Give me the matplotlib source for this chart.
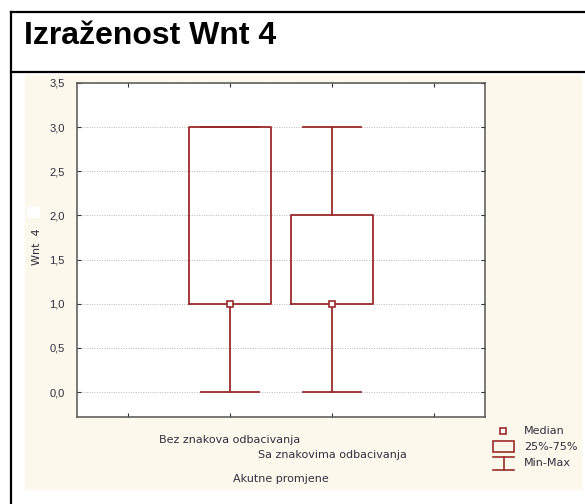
import matplotlib
matplotlib.use("Agg")
import matplotlib.pyplot as plt
from matplotlib.lines import Line2D
from matplotlib.patches import Rectangle
from matplotlib.ticker import FuncFormatter
import matplotlib.transforms as mtransforms

plt.rcParams['font.family'] = ['Liberation Sans', 'DejaVu Sans']

# data
categories = ["Bez znakova odbacivanja", "Sa znakovima odbacivanja"]
medians = [1.0, 1.0]
q1 = [1.0, 1.0]
q3 = [3.0, 2.0]
mins = [0.0, 0.0]
maxs = [3.0, 3.0]
yticks = [0.0, 0.5, 1.0, 1.5, 2.0, 2.5, 3.0, 3.5]

W, H = 585, 504
red = '#9b2b2b'
txt = '#2e2e3e'
cream = '#fdf8ec'
small = dict(fontsize=8, color=txt, family='DejaVu Sans')

fig = plt.figure(figsize=(W / 100, H / 100), dpi=100)
fig.patch.set_facecolor('white')

def fx(px):
    return px / W

def fy(py):
    return 1 - py / H

# cream panel behind the chart
fig.add_artist(Rectangle((fx(25), fy(490)), fx(582) - fx(25), fy(75) - fy(490),
                         facecolor=cream, edgecolor='none', zorder=0))
fig.add_artist(Rectangle((fx(27), fy(218)), fx(13), 11 / H,
                         facecolor='white', edgecolor='none', zorder=0.5))

# frame lines
fig.add_artist(Line2D([fx(11), 1], [fy(12), fy(12)], color='black', lw=1.6))
fig.add_artist(Line2D([fx(11), fx(11)], [0, fy(12)], color='black', lw=1.6))
fig.add_artist(Line2D([fx(11), 1], [fy(72.5), fy(72.5)], color='black', lw=1.6))

fig.text(fx(24), fy(44), "Izraženost Wnt 4", fontsize=23, fontweight='bold',
         va='baseline', ha='left')

ax = fig.add_axes([fx(77), fy(417), fx(485) - fx(77), fy(83) - fy(417)])
ax.set_facecolor('white')

stats = []
for i in range(len(categories)):
    stats.append(dict(label=categories[i], med=medians[i], q1=q1[i], q3=q3[i],
                      whislo=mins[i], whishi=maxs[i]))
pos = [1, 2]
ax.bxp(stats, positions=pos, widths=0.8, showfliers=False,
       boxprops=dict(color=red, lw=1.3),
       whiskerprops=dict(color=red, lw=1.3),
       capprops=dict(color=red, lw=1.3),
       medianprops=dict(visible=False),
       capwidths=0.57, manage_ticks=False, zorder=3)
ax.plot(pos, medians, 's', ms=4.5, mfc='white', mec=red, mew=1.2, ls='none', zorder=4)

ax.set_xlim(-0.5, 3.5)
ax.set_ylim(-0.283, 3.5)
ax.set_yticks(yticks)
ax.yaxis.set_major_formatter(FuncFormatter(lambda v, p: f"{v:.1f}".replace('.', ',')))
ax.set_xticks([0, 1, 2, 3])
ax.set_xticklabels([])
ax.tick_params(direction='in', length=3, width=0.8, color='#333333',
               top=True, right=True, labelsize=8, labelcolor=txt, pad=9)
ax.grid(axis='y', color='#b8b8b8', ls=(0, (1, 1.5)), lw=0.7)
ax.set_axisbelow(True)
for s in ax.spines.values():
    s.set_color('#555555')
    s.set_linewidth(1.1)

trans = mtransforms.blended_transform_factory(ax.transData, fig.transFigure)
ax.text(1, fy(440), categories[0], transform=trans, ha='center', va='center', **small)
ax.text(2, fy(455), categories[1], transform=trans, ha='center', va='center', **small)
fig.text(fx(281), fy(479), "Akutne promjene", ha='center', va='center', **small)
fig.text(fx(37), fy(247), "Wnt  4", rotation=90, ha='center', va='center', **small)

# legend
fig.add_artist(Line2D([fx(503)], [fy(431)], marker='s', ms=4.5, mfc='white',
                      mec=red, mew=1.2, ls='none'))
fig.add_artist(Rectangle((fx(493), fy(452)), fx(21), 11 / H, facecolor='none',
                         edgecolor=red, lw=1.2))
fig.add_artist(Line2D([fx(493), fx(514)], [fy(457), fy(457)], color=red, lw=1.2))
fig.add_artist(Line2D([fx(493), fx(514)], [fy(470), fy(470)], color=red, lw=1.2))
fig.add_artist(Line2D([fx(503.5), fx(503.5)], [fy(457), fy(470)], color=red, lw=1.2))
for yy, lab in [(431, "Median"), (447, "25%-75%"), (463, "Min-Max")]:
    fig.text(fx(524), fy(yy), lab, ha='left', va='center', **small)

fig.savefig("out.png", dpi=100)
